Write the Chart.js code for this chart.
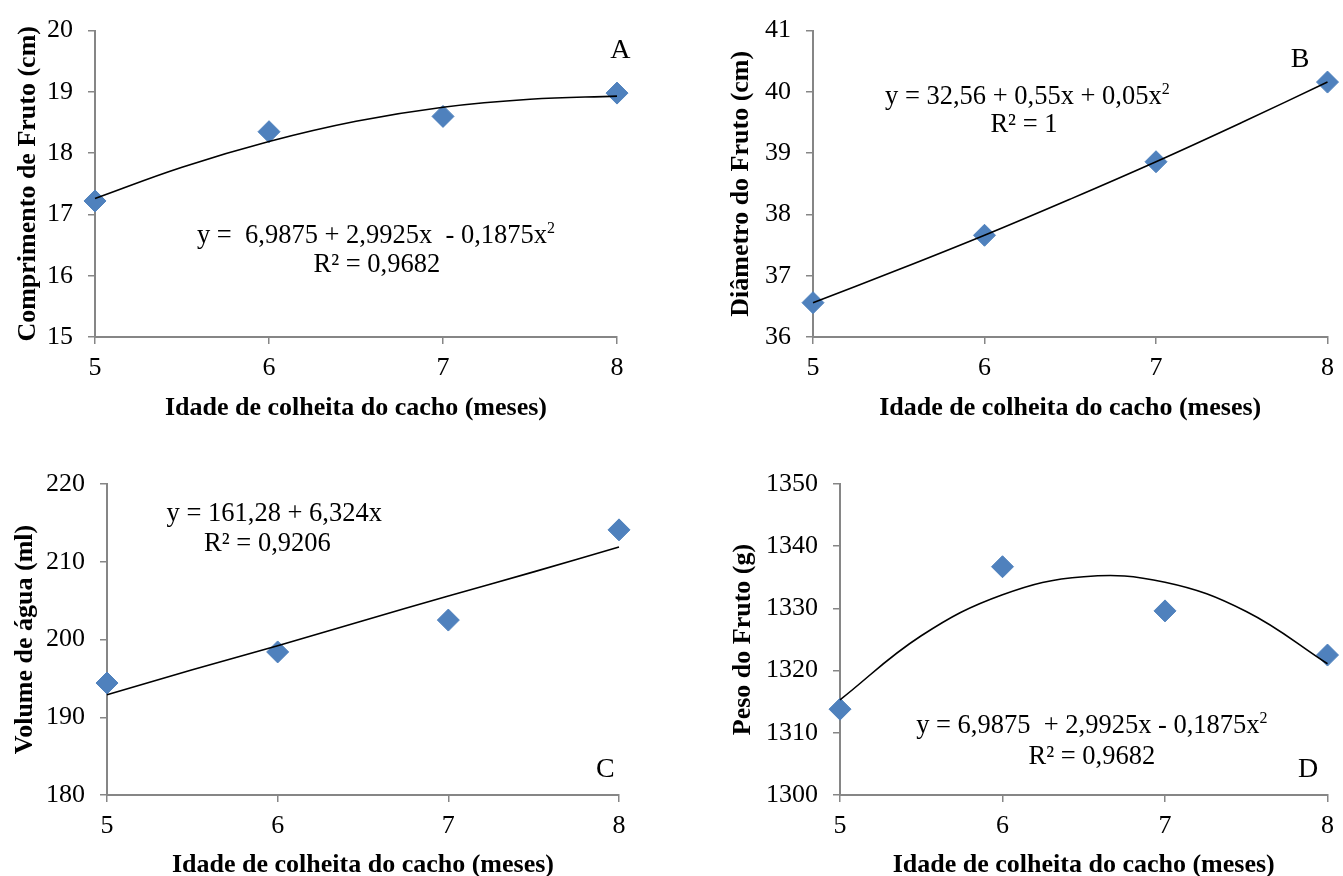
<!DOCTYPE html>
<html>
<head>
<meta charset="utf-8">
<script src="https://cdn.jsdelivr.net/npm/chart.js@4.4.1/dist/chart.umd.min.js"></script>
<style>
  html, body { margin: 0; padding: 0; background: #fff; overflow: hidden; width: 1343px; height: 876px; }
  canvas { position: absolute; }
</style>
</head>
<body>
<canvas id="chartA" width="660" height="430" style="left:0px;top:0px"></canvas>
<canvas id="chartB" width="643" height="430" style="left:700px;top:0px"></canvas>
<canvas id="chartC" width="660" height="460" style="left:0px;top:440px"></canvas>
<canvas id="chartD" width="643" height="460" style="left:700px;top:440px"></canvas>
<script>
// months of harvest (x) and the measured means
var months = [5, 6, 7, 8];
var trendMonths = [5, 5.5, 6, 6.5, 7, 7.5, 8];

var comprimento = [17.22, 18.35, 18.60, 18.98];
var comprimentoTrend = [17.26, 17.77, 18.19, 18.52, 18.75, 18.88, 18.93];

var diametro = [36.56, 37.66, 38.86, 40.16];
var diametroTrend = [36.56, 37.10, 37.66, 38.25, 38.86, 39.50, 40.16];

var volume = [194.4, 198.4, 202.5, 214.1];
var volumeTrend = [192.9, 196.1, 199.2, 202.4, 205.6, 208.7, 211.9];

var peso = [1313.8, 1336.7, 1329.6, 1322.5];
var pesoTrend = [1315.3, 1325.6, 1332.2, 1335.1, 1334.2, 1329.5, 1321.1];

var xTitle = 'Idade de colheita do cacho (meses)';
var serif = "'Liberation Serif', 'Times New Roman', serif";
var blue = '#4F81BD';
var axisGray = '#868686';

function pairs(xs, ys) {
  var out = [];
  for (var i = 0; i < xs.length; i++) out.push({x: xs[i], y: ys[i]});
  return out;
}

// draws a text where "^2" means a small raised 2
function drawRich(ctx, text, cx, cy, size) {
  var parts = text.split('^2');
  var supSize = Math.round(size * 0.62);
  var total = 0;
  var widths = [];
  for (var i = 0; i < parts.length; i++) {
    ctx.font = size + 'px ' + serif;
    var w = ctx.measureText(parts[i]).width;
    widths.push(w);
    total += w;
    if (i < parts.length - 1) {
      ctx.font = supSize + 'px ' + serif;
      total += ctx.measureText('2').width;
    }
  }
  var x = cx - total / 2;
  var base = cy + size * 0.33;
  ctx.fillStyle = '#000';
  ctx.textAlign = 'left';
  ctx.textBaseline = 'alphabetic';
  for (var j = 0; j < parts.length; j++) {
    ctx.font = size + 'px ' + serif;
    ctx.fillText(parts[j], x, base);
    x += widths[j];
    if (j < parts.length - 1) {
      ctx.font = supSize + 'px ' + serif;
      ctx.fillText('2', x, base - size * 0.38);
      x += ctx.measureText('2').width;
    }
  }
}

var notesPlugin = {
  id: 'notes',
  afterDatasetsDraw: function(chart, args, opts) {
    var ctx = chart.ctx;
    var xs = chart.scales.x, ys = chart.scales.y;
    ctx.save();
    (opts.items || []).forEach(function(it) {
      drawRich(ctx, it.text, xs.getPixelForValue(it.x), ys.getPixelForValue(it.y), it.size);
    });
    ctx.restore();
  }
};

function makePanel(id, cfg) {
  new Chart(document.getElementById(id), {
    type: 'scatter',
    data: {
      datasets: [{
        data: pairs(trendMonths, cfg.trend),
        showLine: true,
        borderColor: '#000',
        borderWidth: 1.6,
        pointRadius: 0,
        tension: 0.4,
        fill: false,
        clip: false
      }, {
        data: pairs(months, cfg.values),
        showLine: false,
        pointStyle: 'rectRot',
        pointRadius: 11,
        backgroundColor: blue,
        borderColor: blue,
        borderWidth: 1,
        clip: false
      }]
    },
    options: {
      responsive: false,
      animation: false,
      events: [],
      layout: { padding: cfg.padding },
      plugins: {
        legend: { display: false },
        tooltip: { enabled: false },
        notes: { items: cfg.notes }
      },
      scales: {
        x: {
          type: 'linear',
          min: 5, max: 8,
          afterFit: function(s) { s.height = cfg.xHeight; },
          ticks: { stepSize: 1, maxRotation: 0, autoSkip: false, padding: 9,
                   color: '#000', font: { family: serif, size: 26 } },
          grid: { drawOnChartArea: false, drawTicks: true, tickLength: 7, color: axisGray, lineWidth: 1.5 },
          border: { display: true, color: axisGray, width: 2 },
          title: { display: true, text: xTitle, color: '#000',
                   padding: { top: 0, bottom: cfg.xTitlePad },
                   font: { family: serif, size: 26, weight: 'bold' } }
        },
        y: {
          type: 'linear',
          min: cfg.yMin, max: cfg.yMax,
          afterFit: function(s) { s.width = cfg.yWidth; },
          ticks: { stepSize: cfg.yStep, padding: 15, color: '#000',
                   font: { family: serif, size: 26 },
                   callback: function(v) { return String(v); } },
          grid: { drawOnChartArea: false, drawTicks: true, tickLength: 7, color: axisGray, lineWidth: 1.5 },
          border: { display: true, color: axisGray, width: 2 },
          title: { display: true, text: cfg.yTitle, color: '#000',
                   padding: { top: cfg.yTitlePad, bottom: 0 },
                   font: { family: serif, size: 26, weight: 'bold' } }
        }
      }
    },
    plugins: [notesPlugin]
  });
}

makePanel('chartA', {
  values: comprimento, trend: comprimentoTrend,
  yMin: 15, yMax: 20, yStep: 1,
  yTitle: 'Comprimento de Fruto (cm)',
  padding: { left: 0, top: 26, right: 43, bottom: 0 },
  yWidth: 95, xHeight: 93, yTitlePad: 13, xTitlePad: 6,
  notes: [
    { text: 'y =  6,9875 + 2,9925x  - 0,1875x^2', x: 6.615, y: 16.67, size: 26.5 },
    { text: 'R\u00b2 = 0,9682', x: 6.62, y: 16.2, size: 26.5 },
    { text: 'A', x: 8.02, y: 19.7, size: 28 }
  ]
});

makePanel('chartB', {
  values: diametro, trend: diametroTrend,
  yMin: 36, yMax: 41, yStep: 1,
  yTitle: 'Di\u00e2metro do Fruto (cm)',
  padding: { left: 0, top: 26, right: 8, bottom: 0 },
  yWidth: 113, xHeight: 93, yTitlePad: 26, xTitlePad: 6,
  notes: [
    { text: 'y = 32,56 + 0,55x + 0,05x^2', x: 6.25, y: 39.94, size: 26.5 },
    { text: 'R\u00b2 = 1', x: 6.23, y: 39.49, size: 26.5 },
    { text: 'B', x: 7.84, y: 40.55, size: 28 }
  ]
});

makePanel('chartC', {
  values: volume, trend: volumeTrend,
  yMin: 180, yMax: 220, yStep: 10,
  yTitle: 'Volume de \u00e1gua (ml)',
  padding: { left: 0, top: 44, right: 41, bottom: 0 },
  yWidth: 107, xHeight: 105, yTitlePad: 10, xTitlePad: 19,
  notes: [
    { text: 'y = 161,28 + 6,324x', x: 5.98, y: 216.4, size: 26.5 },
    { text: 'R\u00b2 = 0,9206', x: 5.94, y: 212.5, size: 26.5 },
    { text: 'C', x: 7.92, y: 183.5, size: 28 }
  ]
});

makePanel('chartD', {
  values: peso, trend: pesoTrend,
  yMin: 1300, yMax: 1350, yStep: 10,
  yTitle: 'Peso do Fruto (g)',
  padding: { left: 0, top: 44, right: 8, bottom: 0 },
  yWidth: 140, xHeight: 105, yTitlePad: 28, xTitlePad: 19,
  notes: [
    { text: 'y = 6,9875  + 2,9925x - 0,1875x^2', x: 6.55, y: 1311.3, size: 26.5 },
    { text: 'R\u00b2 = 0,9682', x: 6.55, y: 1306.4, size: 26.5 },
    { text: 'D', x: 7.88, y: 1304.3, size: 28 }
  ]
});
</script>
</body>
</html>
